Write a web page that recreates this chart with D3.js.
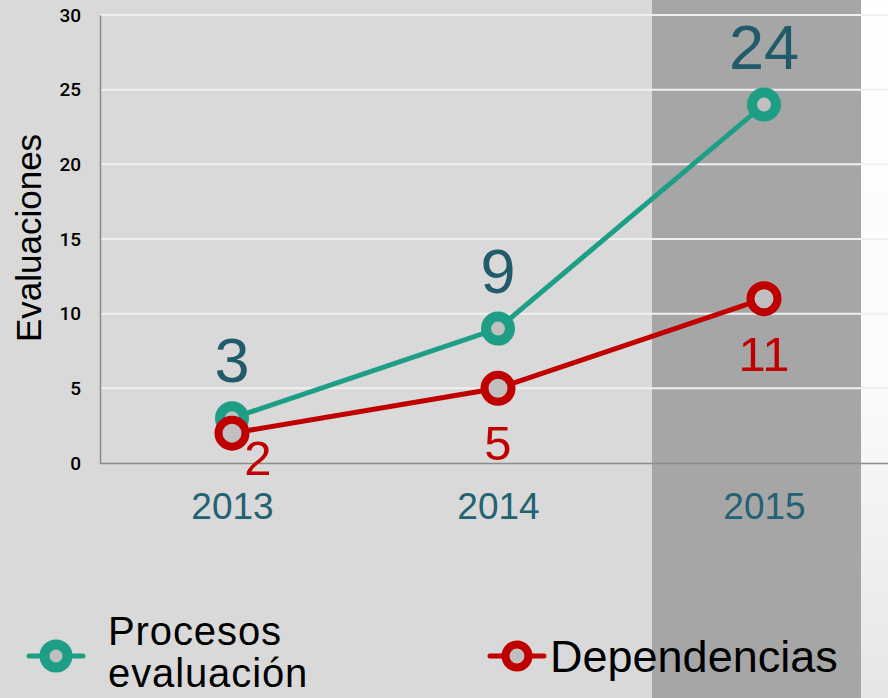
<!DOCTYPE html>
<html><head><meta charset="utf-8">
<script src="https://cdn.jsdelivr.net/npm/d3@7"></script>
<style>html,body{margin:0;padding:0;background:#fff;}svg{display:block;font-family:"Liberation Sans",Arial,sans-serif;}</style>
</head><body>
<svg id="c" width="888" height="698"></svg>
<script>
const years = ["2013", "2014", "2015"];
const procesos = [3, 9, 24];
const dependencias = [2, 5, 11];
const yTicks = [0, 5, 10, 15, 20, 25, 30];
const seriesNames = ["Procesos evaluación", "Dependencias"];
const legendLines = ["Procesos", "evaluación"];

const W = 888, H = 698;
const svg = d3.select("#c");
const defs = svg.append("defs");
const grad = defs.append("linearGradient").attr("id","rg").attr("x1",0).attr("y1",0).attr("x2",0).attr("y2",1);
grad.append("stop").attr("offset","0%").attr("stop-color","#ffffff");
grad.append("stop").attr("offset","55%").attr("stop-color","#fbfbfb");
grad.append("stop").attr("offset","100%").attr("stop-color","#e6e6e6");

// backgrounds
svg.append("rect").attr("x",0).attr("y",0).attr("width",W).attr("height",H).attr("fill","url(#rg)");
svg.append("rect").attr("x",0).attr("y",0).attr("width",861).attr("height",H).attr("fill","#d9d9d9");
svg.append("rect").attr("x",652).attr("y",0).attr("width",209).attr("height",H).attr("fill","#a6a6a6");

const x = d3.scalePoint().domain(years).range([99, 897]).padding(0.5);
const y = d3.scaleLinear().domain([0, 30]).range([463, 15]);

// gridlines
svg.append("g").selectAll("line").data(yTicks.filter(d => d > 0)).join("line")
  .attr("x1", 100).attr("x2", W).attr("y1", d => y(d)).attr("y2", d => y(d))
  .attr("stroke", "#f0f0f0").attr("stroke-width", 2);

// y axis
const yAxis = svg.append("g").attr("transform","translate(100,0)")
  .call(d3.axisLeft(y).tickValues(yTicks).tickSize(0).tickPadding(19));
yAxis.select(".domain").attr("stroke","#8c8c8c").attr("stroke-width",1.5);
yAxis.selectAll("text").attr("font-size",19).attr("font-weight",500).attr("fill","#000").attr("font-family","Roboto, Liberation Sans, Arial, sans-serif");

// x axis
const xAxis = svg.append("g").attr("transform","translate(0,463)")
  .call(d3.axisBottom(x).tickSize(0).tickPadding(30));
xAxis.select(".domain").remove();
svg.append("line").attr("x1",100).attr("x2",W).attr("y1",463.5).attr("y2",463.5).attr("stroke","#8c8c8c").attr("stroke-width",1.5);
xAxis.selectAll("text").attr("font-size",37).attr("fill","#236272").attr("font-family","Liberation Sans, Arial, sans-serif");

// y title
svg.append("text").attr("transform","translate(41,238) rotate(-90)").attr("text-anchor","middle")
  .attr("font-size",35).attr("fill","#000").text("Evaluaciones");

const teal = "#1f9e86", red = "#c00000";
const line = d3.line().x((d,i) => x(years[i])).y(d => y(d));

svg.append("path").datum(procesos).attr("d", line).attr("fill","none").attr("stroke",teal).attr("stroke-width",5);
svg.append("path").datum(dependencias).attr("d", line).attr("fill","none").attr("stroke",red).attr("stroke-width",5);

svg.append("g").selectAll("circle").data(procesos).join("circle")
  .attr("cx",(d,i)=>x(years[i])).attr("cy",d=>y(d)).attr("r",12)
  .attr("fill","#c0c0c0").attr("stroke",teal).attr("stroke-width",10);
svg.append("g").selectAll("circle").data(dependencias).join("circle")
  .attr("cx",(d,i)=>x(years[i])).attr("cy",d=>y(d)).attr("r",13.5)
  .attr("fill","#c0c0c0").attr("stroke",red).attr("stroke-width",8);

// value labels
svg.append("g").selectAll("text").data(procesos).join("text")
  .attr("x",(d,i)=>x(years[i])).attr("y",d=>y(d)-36).attr("text-anchor","middle")
  .attr("font-size",63).attr("fill","#215a69").text(d=>d);
svg.append("g").selectAll("text").data(dependencias).join("text")
  .attr("x",(d,i)=>x(years[i]) + (i===0 ? 26 : 0)).attr("y",(d,i)=>y(d) + (i===0 ? 42 : 72)).attr("text-anchor","middle")
  .attr("font-size",49).attr("fill",red).text(d=>d);

// legend
function legendMarker(cx, cy, color, sw){
  svg.append("line").attr("x1",cx-27).attr("x2",cx+27).attr("y1",cy).attr("y2",cy)
    .attr("stroke",color).attr("stroke-width",5).attr("stroke-linecap","round");
  svg.append("circle").attr("cx",cx).attr("cy",cy).attr("r",11.5).attr("fill","#c0c0c0").attr("stroke",color).attr("stroke-width",sw);
}
legendMarker(56, 656, teal, 10);
svg.append("g").selectAll("text").data(legendLines).join("text")
  .attr("x",108).attr("y",(d,i)=>645 + i*42).attr("font-size",40).attr("letter-spacing",0.9)
  .attr("fill","#000").text(d=>d);
legendMarker(517, 656, red, 8);
svg.append("text").attr("x",550).attr("y",672).attr("font-size",45).attr("fill","#000").text(seriesNames[1]);
</script>
</body></html>
